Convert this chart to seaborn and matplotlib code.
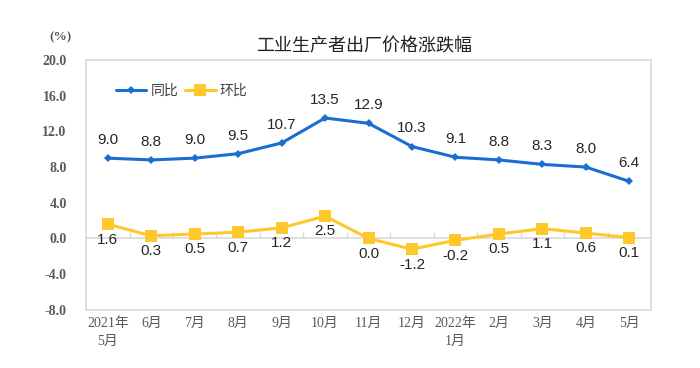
import matplotlib
matplotlib.use("Agg")
import matplotlib.pyplot as plt
import seaborn as sns
import numpy as np

# 数据
months = ["2021年\n5月", "6月", "7月", "8月", "9月", "10月", "11月", "12月",
          "2022年\n1月", "2月", "3月", "4月", "5月"]
yoy = [9.0, 8.8, 9.0, 9.5, 10.7, 13.5, 12.9, 10.3, 9.1, 8.8, 8.3, 8.0, 6.4]
mom = [1.6, 0.3, 0.5, 0.7, 1.2, 2.5, 0.0, -1.2, -0.2, 0.5, 1.1, 0.6, 0.1]
yticks = [-8, -4, 0, 4, 8, 12, 16, 20]

BLUE = "#1A6DD2"
YELLOW = "#FFC82A"
GRID = "#D9D9D9"
TICK = "#595959"

sns.set_style("white")
plt.rcParams["font.family"] = ["Noto Sans CJK SC", "DejaVu Sans"]

fig = plt.figure(figsize=(7, 3.68), dpi=100)
ax = fig.add_axes([0.123, 0.158, 0.807, 0.679])

x = np.arange(len(months))
sns.lineplot(x=x, y=yoy, ax=ax, color=BLUE, lw=2.2, marker="D", markersize=4.5,
             markeredgewidth=0, label="同比")
sns.lineplot(x=x, y=mom, ax=ax, color=YELLOW, lw=2.2, marker="s", markersize=8.5,
             markeredgewidth=0, label="环比")

# 数据标签
for xi, v in zip(x, yoy):
    ax.annotate(f"{v:.1f}", (xi, v), xytext=(0, 8), textcoords="offset points",
                ha="center", va="bottom", fontsize=11, color="#262626",
                family="Liberation Sans")
for xi, v in zip(x, mom):
    ax.annotate(f"{v:.1f}", (xi, v), xytext=(0, -6), textcoords="offset points",
                ha="center", va="top", fontsize=11, color="#262626",
                family="Liberation Sans")

ax.set_xlim(-0.5, len(months) - 0.5)
ax.set_ylim(-8, 20)
ax.set_yticks(yticks)
ax.set_yticklabels([f"{t:.1f}" for t in yticks], family=["Liberation Serif", "DejaVu Serif"],
                   fontsize=10, color=TICK, fontweight="bold")
ax.set_xticks(x)
ax.set_xticklabels(months, fontsize=10, color=TICK,
                   family=["Liberation Serif", "Noto Sans CJK SC"], linespacing=1.5)
ax.tick_params(axis="x", length=0, pad=5)
ax.tick_params(axis="y", length=3, color=GRID, direction="in", pad=14)

for s in ax.spines.values():
    s.set_color(GRID)
    s.set_linewidth(1.2)

# 零轴（带分类刻度）
sec = ax.secondary_xaxis(0, transform=ax.transData)
sec.set_xticks(np.arange(0.5, len(months) - 1, 1))
sec.set_xticklabels([])
sec.tick_params(direction="in", length=4, color=GRID, width=1)
sec.spines["bottom"].set_color(GRID)
sec.spines["bottom"].set_linewidth(1.2)

ax.legend(loc="upper left", bbox_to_anchor=(0.03, 0.955), ncol=2, frameon=False,
          handlelength=2.2, columnspacing=0.5, handletextpad=0.3,
          prop={"family": ["Noto Sans CJK SC"], "size": 10}, labelcolor="#404040")

fig.text(0.52, 0.875, "工业生产者出厂价格涨跌幅", ha="center", va="center",
         fontsize=13, color="#222222")
fig.text(0.086, 0.9, "(%)", ha="center", va="center", fontsize=9.5, color=TICK,
         family=["Liberation Serif"], fontweight="bold")

fig.savefig("out.png", dpi=100)
